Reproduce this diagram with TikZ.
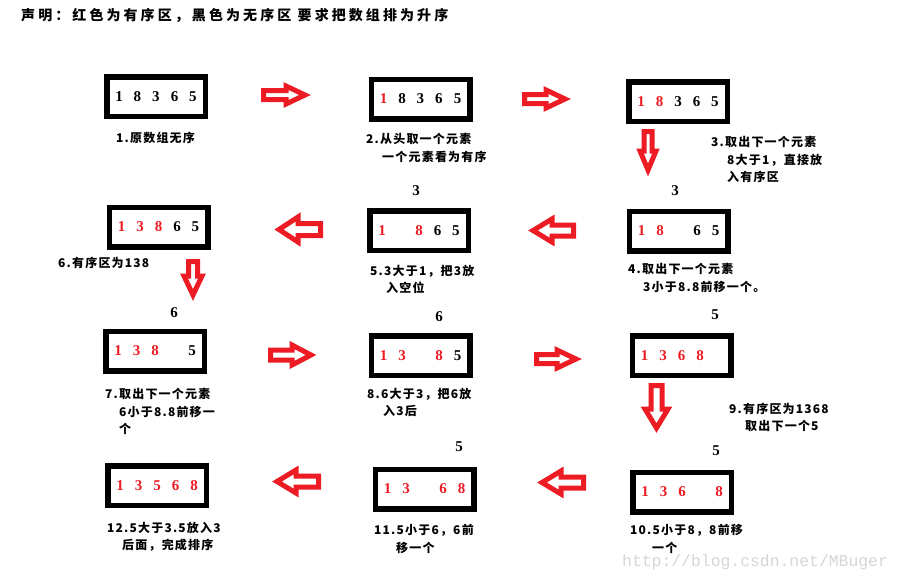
\documentclass[tikz,border=0pt]{standalone}
\usepackage{tikz}
\usepackage{fontspec}
\setmainfont{Liberation Serif}
\newfontfamily\cjkfont[LetterSpace=10]{Noto Sans CJK SC}
\newfontfamily\headfont[LetterSpace=22]{Noto Sans CJK SC}
\newfontfamily\urlfont{Liberation Mono}

\definecolor{paintred}{RGB}{237,28,36}

% one digit slot inside a box: red = sorted, black = unsorted, x = empty
\newcommand\slotr[1]{\makebox[18.5pt]{\color{paintred}#1}}
\newcommand\slotk[1]{\makebox[18.5pt]{#1}}
\newcommand\slotx{\makebox[18.5pt]{}}

\tikzset{
  numbox/.style={draw, line width=5.5pt, minimum width=98.5pt, minimum height=39.5pt,
    inner sep=0pt, font=\bfseries\fontsize{15}{15}\selectfont},
  topnum/.style={inner sep=0pt, font=\bfseries\fontsize{15}{15}\selectfont},
  note/.style={anchor=north west, inner sep=0pt, align=left,
    font=\cjkfont\bfseries\fontsize{12}{17.5}\selectfont},
  arrowline/.style={draw=paintred, fill=white, line width=5pt, line join=miter},
  pics/blockarrow/.style n args={3}{code={
    \draw[arrowline] (2.5,-#3) -- (#1-26,-#3) -- (#1-26,-#2) -- (#1-7,0)
      -- (#1-26,#2) -- (#1-26,#3) -- (2.5,#3) -- cycle;
  }}
}

\begin{document}
\begin{tikzpicture}[x=1pt, y=-1pt]

  \useasboundingbox[fill=white] (0,0) rectangle (903,582);

  % ───────── Title ─────────
  \node[anchor=west, inner sep=0pt, font=\headfont\bfseries\fontsize{14}{14}\selectfont]
    (title) at (21,16) {声明：红色为有序区，黑色为无序区 要求把数组排为升序};

  % ───────── Array boxes (row by row) ─────────
  \node[numbox] (b1)  at (156,96.5)   {\slotk1\slotk8\slotk3\slotk6\slotk5};
  \node[numbox] (b2)  at (420.5,99)   {\slotr1\slotk8\slotk3\slotk6\slotk5};
  \node[numbox] (b3)  at (678,101.5)  {\slotr1\slotr8\slotk3\slotk6\slotk5};

  \node[numbox] (b4)  at (678.5,231)  {\slotr1\slotr8\slotx\slotk6\slotk5};
  \node[numbox] (b5)  at (419,230.5)  {\slotr1\slotx\slotr8\slotk6\slotk5};
  \node[numbox] (b6)  at (158.5,227)  {\slotr1\slotr3\slotr8\slotk6\slotk5};

  \node[numbox] (b7)  at (155,351)    {\slotr1\slotr3\slotr8\slotx\slotk5};
  \node[numbox] (b8)  at (420.5,355.5){\slotr1\slotr3\slotx\slotr8\slotk5};
  \node[numbox] (b9)  at (681.5,355.5){\slotr1\slotr3\slotr6\slotr8\slotx};

  \node[numbox] (b10) at (682,492)    {\slotr1\slotr3\slotr6\slotx\slotr8};
  \node[numbox] (b11) at (424.5,489)  {\slotr1\slotr3\slotx\slotr6\slotr8};
  \node[numbox] (b12) at (157,485.5)  {\slotr1\slotr3\slotr5\slotr6\slotr8};

  % ───────── Element taken out (above the box) ─────────
  \foreach \x/\y/\n [count=\i] in {416/191/3, 675/191/3, 174/313/6, 439/317/6,
                                   715/315/5, 459/447/5, 716/451/5}
    \node[topnum] (top\i) at (\x,\y) {\n};

  % ───────── Red block arrows (start x, y, rotation, length, head, shaft) ─────────
  \foreach \x/\y/\r/\l/\h/\s in {261/95/0/51/9/4.5, 522/99/0/50/9/4.5,
      648/129/-90/48/8/4, 576/230.5/180/50/11.5/5.5, 323/229.5/180/51/12.5/6,
      193/259/-90/43/9/4.5, 268/355/0/50/10/5, 534/359/0/49/9/4.5,
      656.5/383/-90/52/11.5/5.5, 586/482.5/180/51/11.5/5.5, 321/481.5/180/51/11.5/5.5}
    \pic[rotate=\r] at (\x,\y) {blockarrow={\l}{\h}{\s}};

  % ───────── Step notes ─────────
  \node[note] (t1)  at (116,131.5) {1.原数组无序};
  \node[note] (t2)  at (366,133.5) {2.从头取一个元素\\\hspace*{16pt}一个元素看为有序};
  \node[note] (t3)  at (711,136.5) {3.取出下一个元素\\\hspace*{16pt}8大于1，直接放\\\hspace*{16pt}入有序区};
  \node[note] (t4)  at (628,263.5) {4.取出下一个元素\\\hspace*{15pt}3小于8.8前移一个。};
  \node[note] (t5)  at (370,264.5) {5.3大于1，把3放\\\hspace*{16pt}入空位};
  \node[note] (t6)  at (58,256.5)  {6.有序区为138};
  \node[note] (t7)  at (105,388.5) {7.取出下一个元素\\\hspace*{14pt}6小于8.8前移一\\\hspace*{14pt}个};
  \node[note] (t8)  at (367,387.5) {8.6大于3，把6放\\\hspace*{16pt}入3后};
  \node[note] (t9)  at (729,402.5) {9.有序区为1368\\\hspace*{16pt}取出下一个5};
  \node[note] (t10) at (630,524.5) {10.5小于8，8前移\\\hspace*{22pt}一个};
  \node[note] (t11) at (374,524.5) {11.5小于6，6前\\\hspace*{22pt}移一个};
  \node[note] (t12) at (107,521.5) {12.5大于3.5放入3\\\hspace*{15pt}后面，完成排序};

  % ───────── Watermark ─────────
  \node[anchor=west, inner sep=0pt, text=black!16, font=\urlfont\fontsize{16.4}{16.4}\selectfont]
    (url) at (622,562) {http://blog.csdn.net/MBuger};

\end{tikzpicture}
\end{document}
